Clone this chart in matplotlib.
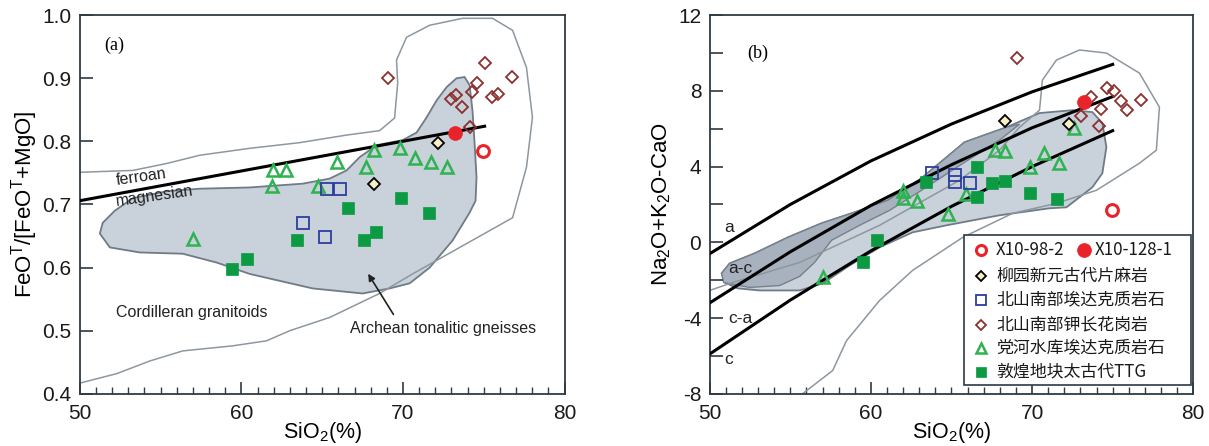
import numpy as np
import matplotlib
matplotlib.use('Agg')
import matplotlib.pyplot as plt
from matplotlib.patches import Polygon, Rectangle

plt.rcParams['font.family'] = ['Liberation Sans', 'DejaVu Sans']
plt.rcParams['mathtext.default'] = 'regular'

#------------------------------------------------------
# panel (a): SiO2 vs FeOT/(FeOT+MgO)
a_kfs_x = [69.05, 75.05, 76.72, 74.61, 74.24, 73.31, 73.0, 73.62, 75.48, 75.85, 74.12]
a_kfs_y = [0.900, 0.924, 0.902, 0.892, 0.878, 0.873, 0.867, 0.854, 0.870, 0.875, 0.822]
a_tri_x = [61.94, 62.74, 61.87, 65.89, 68.18, 69.79, 67.69, 70.72, 71.71, 72.70, 64.72, 56.99]
a_tri_y = [0.754, 0.754, 0.730, 0.768, 0.786, 0.790, 0.759, 0.773, 0.767, 0.760, 0.730, 0.646]
a_bsq_x = [63.79, 65.28, 66.08, 65.15]
a_bsq_y = [0.670, 0.724, 0.725, 0.648]
a_gsq_x = [59.40, 60.33, 63.42, 66.57, 67.56, 68.31, 69.85, 71.58]
a_gsq_y = [0.597, 0.614, 0.643, 0.695, 0.643, 0.657, 0.710, 0.686]
a_yel_x = [72.14, 68.18]
a_yel_y = [0.798, 0.733]
a_red_open = (74.92, 0.784)
a_red_fill = (73.19, 0.813)

a_line_x = [50.0, 75.05]
a_line_y = [0.706, 0.824]

a_cord_x = [50.0, 53.28, 55.38, 57.42, 60.51, 63.61, 66.51, 68.55, 69.48, 69.67, 69.60,
            70.22, 71.65, 73.69, 75.54, 76.78, 77.64, 78.01, 77.64, 76.78, 73.93, 70.59,
            68.55, 65.46, 62.99, 61.56, 59.46, 56.37, 54.33, 52.29, 50.0]
a_cord_y = [0.751, 0.754, 0.765, 0.778, 0.789, 0.798, 0.810, 0.817, 0.837, 0.892, 0.929,
            0.965, 0.984, 0.995, 0.995, 0.976, 0.917, 0.838, 0.759, 0.679, 0.638, 0.590,
            0.559, 0.521, 0.500, 0.484, 0.476, 0.468, 0.452, 0.432, 0.417]

a_arch_x = [51.24, 51.42, 52.16, 53.28, 55.38, 57.42, 60.51, 63.79, 65.46, 66.51, 67.32,
            68.37, 69.98, 70.84, 71.46, 72.08, 72.70, 73.31, 73.81, 74.12, 74.30, 74.43,
            74.55, 74.49, 74.12, 73.07, 71.65, 70.41, 69.17, 67.50, 64.41, 62.37, 60.51,
            58.47, 56.37, 53.71, 51.86]
a_arch_y = [0.654, 0.671, 0.690, 0.710, 0.721, 0.725, 0.727, 0.733, 0.741, 0.754, 0.775,
            0.794, 0.802, 0.814, 0.838, 0.865, 0.886, 0.900, 0.902, 0.889, 0.849, 0.797,
            0.743, 0.706, 0.687, 0.643, 0.600, 0.575, 0.567, 0.559, 0.567, 0.579, 0.590,
            0.608, 0.622, 0.624, 0.632]

#------------------------------------------------------
# panel (b): SiO2 vs Na2O+K2O-CaO
b_kfs_x = [69.09, 74.67, 75.11, 75.54, 75.91, 76.78, 73.68, 74.30, 73.06, 74.18]
b_kfs_y = [9.74, 8.15, 7.99, 7.46, 6.98, 7.51, 7.67, 7.04, 6.67, 6.14]
b_tri_x = [57.01, 61.97, 61.97, 62.83, 64.76, 65.93, 67.67, 68.29, 69.84, 70.77, 71.70, 72.63]
b_tri_y = [-1.85, 2.70, 2.33, 2.17, 1.48, 2.54, 4.87, 4.81, 3.97, 4.71, 4.18, 6.03]
b_bsq_x = [63.82, 65.19, 65.19, 66.12]
b_bsq_y = [3.65, 3.54, 3.17, 3.12]
b_gsq_x = [59.49, 60.35, 63.45, 66.61, 66.61, 67.54, 68.29, 69.84, 71.57]
b_gsq_y = [-1.06, 0.11, 3.17, 3.97, 2.38, 3.12, 3.23, 2.59, 2.28]
b_yel_x = [68.29, 72.32]
b_yel_y = [6.40, 6.24]
b_red_open = (74.98, 1.69)
b_red_fill = (73.25, 7.41)

# MALI boundaries, read at SiO2 = 50, 55, 60, 65, 70, 75
mali_x = [50, 55, 60, 65, 70, 75]
mali_a = [-0.6, 2.0, 4.3, 6.25, 7.95, 9.4]
mali_ac = [-3.2, -0.5, 1.95, 4.1, 6.05, 7.7]
mali_ca = [-5.9, -3.05, -0.45, 1.9, 4.0, 5.9]

b_cord_x = [50.0, 51.43, 55.58, 60.54, 65.50, 67.98, 69.22, 70.46, 70.64, 71.51, 72.94,
            74.61, 76.66, 77.90, 77.71, 76.66, 74.98, 73.99, 71.51, 68.78, 65.69, 62.59,
            60.54, 58.49, 57.63, 55.77]
b_cord_y = [-2.54, -2.12, -1.06, 0.90, 3.28, 4.87, 6.08, 6.98, 8.57, 9.63, 10.16,
            10.0, 8.94, 7.14, 4.87, 4.18, 3.28, 2.75, 2.06, 1.53, 0.26, -1.48,
            -3.07, -5.19, -6.77, -7.99]

b_arch_x = [50.74, 51.24, 52.79, 54.84, 56.94, 58.99, 61.04, 63.14, 65.81, 68.41, 70.46,
            72.50, 73.74, 74.36, 74.61, 74.36, 73.74, 72.94, 72.13, 71.08, 67.98, 64.69,
            62.59, 60.54, 58.68, 57.01, 55.58, 53.10, 51.74, 50.93]
b_arch_y = [-1.64, -1.11, -0.58, 0.26, 1.01, 1.59, 2.22, 3.39, 5.29, 6.08, 6.83,
            6.98, 6.88, 6.30, 5.03, 3.65, 2.91, 2.38, 1.85, 1.80, 1.43, 0.90,
            0.53, -0.26, -1.22, -2.17, -2.54, -2.54, -2.43, -2.12]

b_band_x = [50.74, 51.24, 52.79, 54.84, 56.94, 58.99, 61.04, 63.14, 65.81, 68.41, 69.22,
            67.98, 65.81, 63.14, 61.16, 59.30, 57.56, 56.51, 55.58, 54.34, 52.48, 50.87]
b_band_y = [-1.64, -1.11, -0.58, 0.26, 1.01, 1.59, 2.22, 3.39, 5.29, 6.08, 6.24,
            5.40, 4.23, 2.75, 1.69, 0.90, 0.11, -1.06, -1.80, -2.28, -2.38, -2.12]

legend_labels = ['X10-98-2', 'X10-128-1', '柳园新元古代片麻岩', '北山南部埃达克质岩石',
                 '北山南部钾长花岗岩', '党河水库埃达克质岩石', '敦煌地块太古代TTG']

#------------------------------------------------------
c_fill = '#c9d1da'
c_edge = '#6f7b86'
c_cord = '#8e979f'
c_tri = '#2db34f'
c_gsq = '#0c9a43'
c_bsq = '#2c3f9c'
c_kfs = '#8c2f2f'
c_red = '#e8232a'
c_yel = '#f6f0c4'
c_axis = '#2e3a44'

st_tri = dict(ls='none', marker='^', ms=9, mfc='none', mec=c_tri, mew=1.8)
st_gsq = dict(ls='none', marker='s', ms=9, mfc=c_gsq, mec=c_gsq, mew=0.5)
st_bsq = dict(ls='none', marker='s', ms=8.5, mfc='none', mec=c_bsq, mew=1.3)
st_kfs = dict(ls='none', marker='D', ms=6.5, mfc='none', mec=c_kfs, mew=1.3)
st_yel = dict(ls='none', marker='D', ms=6.5, mfc=c_yel, mec='k', mew=1.3)
st_ro = dict(ls='none', marker='o', ms=8.5, mfc='none', mec=c_red, mew=2.2)
st_rf = dict(ls='none', marker='o', ms=10, mfc=c_red, mec=c_red, mew=0.5)

tick_fs = 15
label_fs = 16
note_fs = 11.5


def style_axes(ax):
    for s in ax.spines.values():
        s.set_color(c_axis)
        s.set_linewidth(1.3)
    ax.tick_params(direction='in', which='major', length=9, width=1.2,
                   labelsize=tick_fs, colors=c_axis, labelcolor='#1a1a1a')
    ax.tick_params(direction='in', which='minor', length=5, width=1.0, colors=c_axis)
    ax.tick_params(axis='x', which='major', pad=7)
    ax.tick_params(axis='y', which='major', pad=6)
    ax.tick_params(axis='both', which='both', top=False, right=False)


def plot_points(ax, pts):
    for x, y, st in pts:
        ax.plot(x, y, **st, zorder=5)


fig = plt.figure(figsize=(12.09, 4.46), dpi=100)

#------------------------------------------------------
ax = fig.add_axes([0.066, 0.117, 0.401, 0.849])
ax.add_patch(Polygon(np.column_stack([a_arch_x, a_arch_y]), closed=True,
                     fc=c_fill, ec=c_edge, lw=1.3, zorder=1))
ax.plot(a_cord_x, a_cord_y, color=c_cord, lw=1.1, zorder=2)
ax.plot(a_line_x, a_line_y, color='k', lw=2.2, zorder=3)
plot_points(ax, [(a_tri_x, a_tri_y, st_tri), (a_bsq_x, a_bsq_y, st_bsq),
                 (a_gsq_x, a_gsq_y, st_gsq), (a_kfs_x, a_kfs_y, st_kfs),
                 (a_yel_x, a_yel_y, st_yel), ([a_red_open[0]], [a_red_open[1]], st_ro),
                 ([a_red_fill[0]], [a_red_fill[1]], st_rf)])
ax.text(51.5, 0.952, '(a)', fontsize=13, family='Liberation Serif', va='center')
ax.text(53.8, 0.744, 'ferroan', fontsize=note_fs, rotation=8, ha='center', va='center',
        color='#222222')
ax.text(54.6, 0.713, 'magnesian', fontsize=note_fs, rotation=8, ha='center', va='center',
        color='#222222')
ax.text(56.9, 0.529, 'Cordilleran granitoids', fontsize=note_fs, ha='center', va='center',
        color='#222222')
ax.text(72.45, 0.503, 'Archean tonalitic gneisses', fontsize=note_fs, ha='center',
        va='center', color='#222222')
ax.annotate('', xy=(67.75, 0.594), xytext=(69.5, 0.522),
            arrowprops=dict(arrowstyle='-|>', color='#222222', lw=1.2, mutation_scale=10))
ax.set_xlim(50, 80)
ax.set_ylim(0.4, 1.0)
ax.set_xticks([50, 60, 70, 80])
ax.set_xticks(np.arange(50, 81, 1), minor=True)
ax.set_yticks([0.4, 0.5, 0.6, 0.7, 0.8, 0.9, 1.0])
ax.set_yticklabels(['0.4', '0.5', '0.6', '0.7', '0.8', '0.9', '1.0'])
ax.set_xlabel('SiO$_2$(%)', fontsize=15.5, labelpad=-2)
ax.set_ylabel('FeO$^T$/[FeO$^T$+MgO]', fontsize=label_fs, labelpad=2)
style_axes(ax)

#------------------------------------------------------
bx = fig.add_axes([0.587, 0.117, 0.400, 0.849])
bx.add_patch(Polygon(np.column_stack([b_arch_x, b_arch_y]), closed=True,
                     fc=c_fill, ec=c_edge, lw=1.3, zorder=1))
bx.add_patch(Polygon(np.column_stack([b_band_x, b_band_y]), closed=True,
                     fc='#a7b2be', ec='#76818c', lw=1.0, zorder=1.5))
bx.plot(b_cord_x, b_cord_y, color=c_cord, lw=1.1, zorder=2)
for yy in (mali_a, mali_ac, mali_ca):
    bx.plot(mali_x, yy, color='k', lw=2.2, zorder=3)
plot_points(bx, [(b_tri_x, b_tri_y, st_tri), (b_bsq_x, b_bsq_y, st_bsq),
                 (b_gsq_x, b_gsq_y, st_gsq), (b_kfs_x, b_kfs_y, st_kfs),
                 (b_yel_x, b_yel_y, st_yel), ([b_red_open[0]], [b_red_open[1]], st_ro),
                 ([b_red_fill[0]], [b_red_fill[1]], st_rf)])
bx.text(52.3, 10.0, '(b)', fontsize=13, family='Liberation Serif', va='center')
for lab, lx, ly in [('a', 51.2, 0.8), ('a-c', 51.9, -1.4), ('c-a', 51.9, -4.0), ('c', 51.2, -6.2)]:
    bx.text(lx, ly, lab, fontsize=note_fs + 1, ha='center', va='center', color='#222222',
            zorder=4)
bx.set_xlim(50, 80)
bx.set_ylim(-8, 12)
bx.set_xticks([50, 60, 70, 80])
bx.set_xticks(np.arange(50, 81, 1), minor=True)
bx.set_yticks(np.arange(-8, 13, 2))
bx.set_yticklabels([str(v) if v % 4 == 0 else '' for v in range(-8, 13, 2)])
bx.set_xlabel('SiO$_2$(%)', fontsize=15.5, labelpad=-2)
bx.set_ylabel('Na$_2$O+K$_2$O-CaO', fontsize=label_fs, labelpad=4)
style_axes(bx)

# legend box drawn by hand (first row holds two samples)
tr = bx.transAxes
bx.add_patch(Rectangle((0.525, 0.024), 0.471, 0.396, transform=tr, fc='white',
                       ec=c_axis, lw=1.2, zorder=6))
cjk = ['Noto Sans CJK SC', 'DejaVu Sans']
rows_y = [0.381, 0.312, 0.249, 0.183, 0.122, 0.058]
leg_st = [st_ro, st_yel, st_bsq, st_kfs, st_tri, st_gsq]
leg_txt = [legend_labels[0]] + legend_labels[2:]
leg_fs = 12.2
for yy, st, txt in zip(rows_y, leg_st, leg_txt):
    s = dict(st)
    s['ms'] = st['ms'] * 0.85
    bx.plot([0.562], [yy], transform=tr, clip_on=False, zorder=7, **s)
    bx.text(0.592, yy, txt, transform=tr, fontsize=leg_fs, family=cjk, va='center',
            color='#1a1a1a', zorder=7)
bx.plot([0.775], [rows_y[0]], transform=tr, clip_on=False, zorder=7, **st_rf)
bx.text(0.797, rows_y[0], legend_labels[1], transform=tr, fontsize=leg_fs, family=cjk,
        va='center', color='#1a1a1a', zorder=7)

plt.savefig('out.png', dpi=100)
